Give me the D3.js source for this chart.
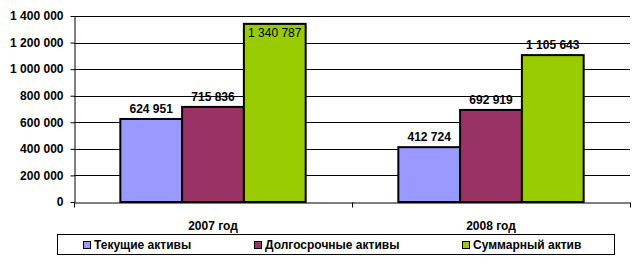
<!DOCTYPE html>
<html>
<head>
<meta charset="utf-8">
<script src="https://cdn.jsdelivr.net/npm/d3@7/dist/d3.min.js"></script>
<style>
  body { margin: 0; background: #fff; }
  svg { display: block; font-family: "Liberation Sans", Arial, sans-serif; }
  .axis text { font-weight: bold; font-size: 12px; fill: #000; }
  .axis path, .axis line { stroke: #000; }
</style>
</head>
<body>
<div id="chart"></div>
<script>
// Data
const years = ["2007 год", "2008 год"];
const seriesNames = ["Текущие активы", "Долгосрочные активы", "Суммарный актив"];
const currentAssets = [624951, 412724];
const longTermAssets = [715836, 692919];
const totalAssets = [1340787, 1105643];
const yTicks = [0, 200000, 400000, 600000, 800000, 1000000, 1200000, 1400000];
const colors = ["#9999ff", "#993366", "#99cc00"];

const seriesValues = [currentAssets, longTermAssets, totalAssets];
const rows = [];
years.forEach((year, i) => {
  seriesNames.forEach((name, j) => {
    rows.push({ year, name, value: seriesValues[j][i], color: colors[j] });
  });
});

// Formatter: thousands separated by spaces
const fmt = (v) => d3.format(",")(v).replace(/,/g, " ");

// Dimensions
const dimensions = { width: 635, height: 264, left: 74, right: 630, top: 16, bottom: 202 };

const svg = d3.select("#chart")
  .append("svg")
  .attr("width", dimensions.width)
  .attr("height", dimensions.height);

// Scales
const x0 = d3.scaleBand()
  .domain(years)
  .range([dimensions.left, dimensions.right])
  .padding(0);

const x1 = d3.scaleBand()
  .domain(seriesNames)
  .range([0, x0.bandwidth()])
  .paddingInner(0)
  .paddingOuter(0.75);

const y = d3.scaleLinear()
  .domain([0, 1400000])
  .range([dimensions.bottom, dimensions.top]);

// Gridlines
svg.append("g")
  .selectAll("line")
  .data(yTicks.slice(1))
  .join("line")
  .attr("x1", dimensions.left)
  .attr("x2", dimensions.right)
  .attr("y1", (d) => Math.round(y(d)) + 0.5)
  .attr("y2", (d) => Math.round(y(d)) + 0.5)
  .attr("stroke", "#000")
  .attr("stroke-width", 1);

// Bars
svg.append("g")
  .selectAll("rect")
  .data(rows)
  .join("rect")
  .attr("x", (d) => x0(d.year) + x1(d.name))
  .attr("y", (d) => y(d.value))
  .attr("width", x1.bandwidth())
  .attr("height", (d) => y(0) - y(d.value))
  .attr("fill", (d) => d.color)
  .attr("stroke", "#000")
  .attr("stroke-width", 2);

// Axes
const yAxis = d3.axisLeft(y)
  .tickValues(yTicks)
  .tickFormat(fmt)
  .tickSize(4)
  .tickSizeOuter(0)
  .tickPadding(7);

svg.append("g")
  .attr("class", "axis")
  .attr("transform", `translate(${dimensions.left + 0.5},0)`)
  .call(yAxis);

const xAxis = d3.axisBottom(x0)
  .tickSize(0)
  .tickSizeOuter(0)
  .tickPadding(19);

const xAxisGroup = svg.append("g")
  .attr("class", "axis")
  .attr("transform", `translate(0,${dimensions.bottom + 0.5})`)
  .call(xAxis);

// category separator ticks
xAxisGroup.selectAll(".sep")
  .data([dimensions.left, x0(years[1]), dimensions.right])
  .join("line")
  .attr("class", "sep")
  .attr("x1", (d) => Math.round(d) + 0.5)
  .attr("x2", (d) => Math.round(d) + 0.5)
  .attr("y1", 0)
  .attr("y2", 5)
  .attr("stroke", "#000");

// Value labels (placed inside the bar when there's no room above the plot)
const noRoom = (d) => y(d.value) - 16 < dimensions.top;

svg.append("g")
  .selectAll("text")
  .data(rows)
  .join("text")
  .attr("x", (d) => x0(d.year) + x1(d.name) + x1.bandwidth() / 2)
  .attr("y", (d) => (noRoom(d) ? y(d.value) + 13 : y(d.value) - 6))
  .attr("text-anchor", "middle")
  .attr("font-size", 12)
  .attr("font-weight", (d) => (noRoom(d) ? "normal" : "bold"))
  .attr("fill", "#000")
  .text((d) => fmt(d.value));

// Legend
const legend = svg.append("g");
legend.append("rect")
  .attr("x", 57.5)
  .attr("y", 234.5)
  .attr("width", 557)
  .attr("height", 20)
  .attr("fill", "#fff")
  .attr("stroke", "#000");

const legendX = [83, 254, 462];
const items = legend.selectAll("g")
  .data(seriesNames)
  .join("g")
  .attr("transform", (d, i) => `translate(${legendX[i]},241)`);

items.append("rect")
  .attr("x", 0.5)
  .attr("y", 0.5)
  .attr("width", 7)
  .attr("height", 7)
  .attr("fill", (d, i) => colors[i])
  .attr("stroke", "#000");

items.append("text")
  .attr("x", 11)
  .attr("y", 8)
  .attr("font-size", 12)
  .attr("font-weight", "bold")
  .attr("fill", "#000")
  .text((d) => d);
</script>
</body>
</html>
